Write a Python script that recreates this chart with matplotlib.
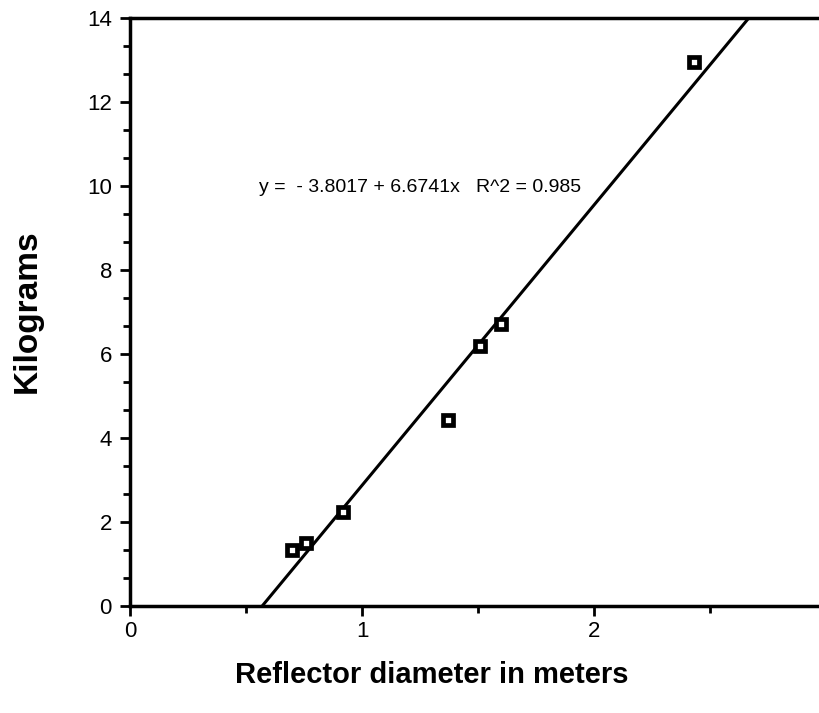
import numpy as np
import matplotlib
matplotlib.use('Agg')
import matplotlib.pyplot as plt
from matplotlib.ticker import MultipleLocator

# reflector diameter (m) vs mass (kg)
diameter = [0.70, 0.76, 0.92, 1.37, 1.51, 1.60, 2.43]
kilograms = [1.33, 1.50, 2.24, 4.43, 6.19, 6.72, 12.95]
intercept = -3.8017
slope = 6.6741
r2 = 0.985

plt.rcParams['font.family'] = ['Liberation Sans', 'DejaVu Sans']

fig = plt.figure(figsize=(8.2, 7.13), dpi=100)
ax = fig.add_axes([0.1585, 0.150, 0.849, 0.825])

xs = np.array([-intercept / slope, (14 - intercept) / slope])
ax.plot(xs, intercept + slope * xs, color='black', lw=2.2, zorder=2)
ax.plot(diameter, kilograms, 's', ms=6.5, mfc='white', mec='black', mew=3.4, zorder=3)

ax.text(0.555, 9.95, 'y =  - 3.8017 + 6.6741x   R^2 = 0.985', fontsize=14,
        va='center', ha='left')

ax.set_xlim(0, 3)
ax.set_ylim(0, 14)
ax.xaxis.set_major_locator(MultipleLocator(1))
ax.xaxis.set_minor_locator(MultipleLocator(0.5))
ax.yaxis.set_major_locator(MultipleLocator(2))
ax.yaxis.set_minor_locator(MultipleLocator(2 / 3))
ax.tick_params(which='major', length=7, width=2, labelsize=16)
ax.tick_params(axis='y', which='major', pad=6)
ax.tick_params(axis='x', which='major', pad=4)
ax.tick_params(which='minor', length=5, width=2)

ax.spines['right'].set_visible(False)
for s in ['left', 'bottom', 'top']:
    ax.spines[s].set_linewidth(2.5)

fig.text(432 / 820, 1 - 675 / 713, 'Reflector diameter in meters', fontsize=21,
         fontweight='bold', ha='center', va='center')
fig.text(27 / 820, 1 - 311 / 713, 'Kilograms', fontsize=24, fontweight='bold',
         rotation=90, ha='center', va='center')

fig.savefig('out.png', dpi=100)
